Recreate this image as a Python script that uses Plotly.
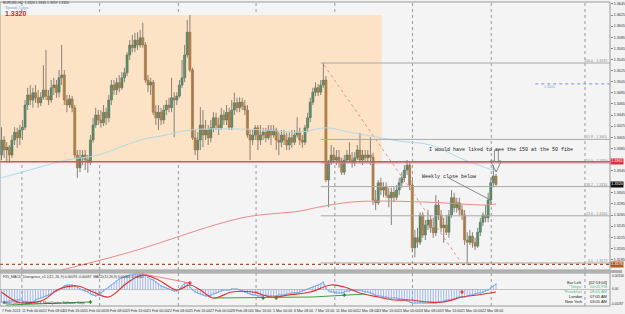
import plotly.graph_objects as go

# ---------------- data: H4 candles, prices stored as pips above 1.3000 ----------------
opens = [373,400,382,387,373,400,414,404,418,423, 463,481,472,485,476,467,477,490,479,472,
         494,499,486,512,517,472,463,474,458,373, 350,368,373,364,360,400,427,445,436,431,
         450,440,472,499,490,503,494,512,521,553, 571,566,580,571,584,571,508,499,504,450,
         440,450,436,454,463,458,476,472,479,499, 512,553,594,526,404,382,400,427,409,418,
         404,422,440,427,422,445,436,450,423,454, 467,458,468,461,454,409,400,409,422,400,
         409,414,404,418,409,418,400,396,409,400, 391,404,396,409,414,400,396,422,440,468,
         486,494,486,499,508,328,359,373,364,369, 360,342,364,373,364,359,368,382,364,373,
         368,373,369,292,287,323,310,315,301,296, 306,297,310,323,332,346,355,319,206,224,
         216,265,229,247,256,242,233,283,265,242, 247,234,265,296,278,287,274,265,220,216,
         227,215,209,234,252,265,260,292,323,335]
highs = [423,407,396,391,409,423,422,427,436,472, 494,499,494,499,490,486,535,562,490,508,
         512,508,526,571,526,481,481,479,463,382, 382,382,382,373,409,440,458,454,454,463,
         458,481,508,508,512,517,522,530,558,580, 589,593,594,598,611,576,517,512,508,463,
         463,458,463,472,476,512,486,486,508,544, 571,616,625,530,418,414,459,454,436,427,
         436,450,449,440,458,454,463,458,472,485, 476,477,476,472,463,418,418,427,427,427,
         422,422,427,427,427,422,414,418,418,413, 414,418,418,441,422,409,427,449,476,494,
         504,501,508,539,515,364,391,387,382,382, 368,373,382,396,378,378,391,413,382,382,
         382,405,377,310,328,332,324,324,314,314, 315,319,332,342,355,364,360,328,238,242,
         270,270,256,274,265,260,301,292,274,260, 265,274,310,305,296,296,283,274,234,238,
         234,224,242,260,270,283,305,332,355,339]
lows = [364,368,359,359,368,391,386,391,400,418, 454,463,458,467,458,461,472,472,463,467,
        481,476,477,499,463,450,458,450,368,332, 342,355,346,341,355,395,422,427,422,425,
        427,432,463,481,481,486,490,504,515,544, 558,558,562,566,566,503,486,481,445,427,
        418,427,429,445,450,450,405,463,476,494, 504,548,522,400,373,364,382,387,400,391,
        396,414,418,409,418,427,427,418,418,445, 450,450,454,445,404,364,391,400,382,391,
        400,396,400,391,404,382,373,387,391,382, 382,386,391,404,391,386,391,414,432,463,
        479,479,481,494,324,279,355,359,355,350, 337,337,359,359,350,353,364,359,355,359,
        360,355,283,274,283,301,297,296,279,247, 288,292,301,314,324,337,310,198,189,206,
        211,224,220,238,233,224,227,256,234,215, 229,224,260,270,269,265,256,211,175,211,
        206,202,206,227,245,252,252,283,315,317]
closes = [400,382,387,373,400,414,404,418,423,463, 481,472,485,476,467,477,490,479,472,494,
          499,486,512,517,472,463,474,458,373,350, 368,373,364,360,400,427,445,436,431,450,
          440,472,499,490,503,494,512,521,553,571, 566,580,571,584,571,508,499,504,450,440,
          450,436,454,463,458,476,472,479,499,512, 553,594,526,404,382,400,427,409,418,404,
          422,440,427,422,445,436,450,423,454,467, 458,468,461,454,409,400,409,422,400,409,
          414,404,418,409,418,400,396,409,400,391, 404,396,409,414,400,396,422,440,468,486,
          494,486,499,508,328,359,373,364,369,360, 342,364,373,364,359,368,382,364,373,368,
          373,369,292,287,323,310,315,301,296,306, 297,310,323,332,346,355,319,206,224,216,
          265,229,247,256,242,233,283,265,242,247, 234,265,296,278,287,274,265,220,216,227,
          215,209,234,252,265,260,292,323,335,320]

# MACD histogram / main line (units of 0.00002)
macd_hist = [-13, -13,-13,-12,-12,-11,-11,-11, -12,-13,-14,-14,-13, -11,-10,-9,-8,-7,-6,
             -5,-3,-2,-1, 1,3,4,4,4, 3,2,0,-1,-2,-3, -5,-6,-7,-6, -4,-2,0,2,4, 6,8,10,11,12,
             13,14,14,15,15,15,15, 14,12,10,9, 7,5,3,2,1, 0,-1,-2,-2, 0,3,6,5, 2,-1,-3,-4,-5,
             -6,-7,-7,-6,-5,-4, -3,-2,-1,-1,-1,0, 0,0,-1,-2,-3,-4, -5,-6,-6,-7,-7,-7,
             -6,-7,-7,-7,-7,-6, -6,-6,-5,-5,-4,-4, -4,-3,-2,-1,0,1, 2,3,4,5,7, 1,-2,-3,-3,-4,
             -4,-4,-3,-2,-2,-1, -1,-1,-1,-2,-3,-3, -4,-5,-6,-7,-7,-8, -8,-9,-9,-9,-9,-10,
             -10,-11,-12,-13,-14,-14, -14,-14,-14,-14,-14,-14, -14,-14,-13,-13,-12,-11,
             -11,-11,-10,-9,-8,-8, -8,-7,-6,-6,-5,-4, -4,-3,-2,-1,1, 3,5]
signal_bar = [0, 6, 10, 16, 22, 29, 35, 41, 48, 54, 60, 67, 72, 76, 81, 88, 96, 103, 110, 118,
              126, 131, 137, 144, 150, 156, 163, 169, 176, 182, 189]
signal_val = [-3, -13, -14, -11, 0, 3, -3, -8, 6, 14, 9, -1, 4, -1, -9, -3, -3, -8, -6, -3,
              4, 2, -4, -8, -11, -11, -13, -13, -8, -6, -3]

ma150_bar = [0, 7, 25, 37, 53, 63, 72, 88, 101, 114, 124, 133, 145, 152, 164, 177, 189]
ma150_val = [332, 341, 364, 373, 400, 409, 418, 420, 418, 414, 422, 414, 404, 398, 391, 364, 344]
ma200_bar = [23, 49, 92, 114, 121, 133, 143, 164, 185, 189]
ma200_val = [166, 198, 260, 272, 279, 288, 290, 288, 283, 285]

fib_high, fib_low = 538.6, 178.6
fib_levels = [0.0, 23.6, 38.2, 50.0, 61.8, 100.0]
red_level = 361.0
blue_level = 501.0
brown_level = 176.0
bid = 320.0

time_labels = ["11 Feb 00:00", "12 Feb 08:00", "13 Feb 16:00", "15 Feb 00:00", "18 Feb 08:00",
               "19 Feb 16:00", "21 Feb 00:00", "22 Feb 08:00", "25 Feb 16:00", "27 Feb 00:00",
               "28 Feb 08:00", "1 Mar 16:00", "5 Mar 00:00", "6 Mar 08:00", "7 Mar 16:00",
               "11 Mar 00:00", "12 Mar 08:00", "13 Mar 16:00", "15 Mar 00:00", "18 Mar 08:00",
               "19 Mar 16:00", "21 Mar 00:00", "22 Mar 08:00"]
price_ticks = [1.3645 - 0.002 * k for k in range(24)]

# ---------------- layout helpers ----------------
W, H = 625, 314
ML, MR, MT, MB = 0, 13, 2, 8
PW, PH = W - ML - MR, H - MT - MB
def pxx(x): return x / PW
def pxy(y): return (H - MB - y) / PH
def P(v): return 1.3 + v / 10000.0

N = len(closes)
X = list(range(N))
DX = 2.625
X0 = 1.5
xr = [(0 - X0) / DX, (PW - X0) / DX]

badges = [red_level, bid, brown_level]
shown_ticks = [t for t in price_ticks if all(abs((t - 1.3) * 10000 - b) > 7 for b in badges)]

FONT = "Liberation Sans"
fig = go.Figure()

wx, wy = [], []
for i in X:
    wx += [i, i, None]
    wy += [P(lows[i]), P(highs[i]), None]
fig.add_trace(go.Scatter(x=wx, y=wy, mode="lines", line=dict(color="#8a8078", width=1),
                         hoverinfo="skip", showlegend=False))
for up in (True, False):
    idx = [i for i in X if (closes[i] >= opens[i]) == up]
    fig.add_trace(go.Bar(
        x=idx,
        base=[P(min(opens[i], closes[i])) for i in idx],
        y=[max(abs(closes[i] - opens[i]), 0.6) / 10000.0 for i in idx],
        width=0.8,
        marker=dict(color="#2f8f5a" if up else "#e8891c",
                    line=dict(color="#2f6d4a" if up else "#8a5420", width=0.5)),
        showlegend=False, hoverinfo="skip"))

fig.add_trace(go.Scatter(x=ma150_bar, y=[P(v) for v in ma150_val], mode="lines",
                         line=dict(color="#acdbe8", width=1, shape="spline"), showlegend=False))
fig.add_trace(go.Scatter(x=ma200_bar, y=[P(v) for v in ma200_val], mode="lines",
                         line=dict(color="#e88a8a", width=1, shape="spline"), showlegend=False))

hx, hy = [], []
for i in X:
    hx += [i, i, None]
    hy += [0, macd_hist[i], None]
fig.add_trace(go.Scatter(x=hx, y=hy, mode="lines", yaxis="y2",
                         line=dict(color="#8fa8ee", width=0.8), showlegend=False))
fig.add_trace(go.Scatter(x=X, y=macd_hist, mode="lines+markers", yaxis="y2",
                         line=dict(color="#7aaaf0", width=1), marker=dict(size=1.5, color="#7aaaf0"),
                         showlegend=False))
fig.add_trace(go.Scatter(x=signal_bar, y=signal_val, mode="lines", yaxis="y2",
                         line=dict(color="#e03030", width=1.2, shape="spline"), showlegend=False))
fig.add_trace(go.Scatter(x=[2, 34, None, 81, 119, 139], y=[-16, -13, None, -9, -8, -5], mode="lines",
                         yaxis="y2", line=dict(color="#40a040", width=1), showlegend=False))
fig.add_trace(go.Scatter(x=[54, 72], y=[15, 6], mode="lines", yaxis="y2",
                         line=dict(color="#f08080", width=1), showlegend=False))
fig.add_trace(go.Scatter(x=[72, 176], y=[6, -3], mode="markers", yaxis="y2",
                         marker=dict(color="#d02020", size=3, symbol="cross"), showlegend=False))
fig.add_trace(go.Scatter(x=[34, 100, 105, 131], y=[-13, -9, -9, -6], mode="markers", yaxis="y2",
                         marker=dict(color="#208020", size=3, symbol="cross"), showlegend=False))

shapes = []
shapes.append(dict(type="rect", xref="x", yref="y", x0=xr[0], x1=145.3, y0=P(362), y1=P(625),
                   fillcolor="#fde3c5", line=dict(width=0), layer="below"))
for gx in [7.8, 37.5, 67.6, 97.3, 127.4, 157.1, 187.2, 223.0]:
    shapes.append(dict(type="line", xref="x", yref="paper", x0=gx, x1=gx, y0=0, y1=1,
                       line=dict(color="#9a9a9a", width=1, dash="dot"), layer="below"))
for lv in fib_levels:
    pv = fib_low + (fib_high - fib_low) * lv / 100.0
    shapes.append(dict(type="line", xref="x", yref="y", x0=122, x1=xr[1], y0=P(pv), y1=P(pv),
                       line=dict(color="#a8a8a8", width=1)))
shapes.append(dict(type="line", xref="x", yref="y", x0=123.3, x1=175.8, y0=P(535), y1=P(179),
                   line=dict(color="#f09080", width=1, dash="dot")))
shapes.append(dict(type="line", xref="x", yref="y", x0=xr[0], x1=xr[1], y0=P(red_level), y1=P(red_level),
                   line=dict(color="#d85060", width=1.5)))
shapes.append(dict(type="line", xref="x", yref="y", x0=204, x1=xr[1], y0=P(blue_level), y1=P(blue_level),
                   line=dict(color="#7090e0", width=1, dash="dot")))
shapes.append(dict(type="line", xref="x", yref="y", x0=xr[0], x1=xr[1], y0=P(brown_level), y1=P(brown_level),
                   line=dict(color="#a0522d", width=1.2, dash="dot")))
shapes.append(dict(type="line", xref="x", yref="y", x0=170.9, x1=186.9, y0=P(331.6), y1=P(292),
                   line=dict(color="#707070", width=0.8)))
shapes.append(dict(type="path", xref="x", yref="y",
                   path=f"M 188.4 {P(382)} L 188.4 {P(362.2)} L 186.9 {P(362.2)} L 189.1 {P(342.4)} "
                        f"L 191.0 {P(362.2)} L 189.9 {P(362.2)} L 189.9 {P(382)} Z",
                   line=dict(color="#707070", width=0.8), fillcolor="rgba(0,0,0,0)"))
shapes.append(dict(type="rect", xref="paper", yref="paper", x0=0, x1=1, y0=pxy(270), y1=pxy(2),
                   line=dict(color="#9a9a9a", width=1)))
shapes.append(dict(type="rect", xref="paper", yref="paper", x0=0, x1=1, y0=pxy(306), y1=pxy(273),
                   line=dict(color="#9a9a9a", width=1)))
shapes.append(dict(type="rect", xref="paper", yref="paper", x0=0, x1=1.02, y0=pxy(273), y1=pxy(270),
                   fillcolor="#b0b0b0", line=dict(width=0)))

ann = []
def txt(x, y, s, size=4.5, color="#303030", anchor="left", family=FONT, **kw):
    ann.append(dict(x=pxx(x), y=pxy(y), xref="paper", yref="paper", text=s, showarrow=False,
                    xanchor=anchor, yanchor="middle", borderpad=0,
                    font=dict(size=size, color=color, family=family), **kw))

txt(2, 3, "EURUSD,H4  1.3320 1.3345 1.3319 1.3320", 3.4)
txt(4, 7.6, "Spread: 1 pips", 3.6, "#7a9ad8")
txt(4, 13.6, "<b>1.3320</b>", 7, "#e02020")
txt(429, 149.5, "I would have liked to see the 150 at the 50 fibe", 5, "#202020", family="Liberation Mono")
txt(422, 176.5, "Weekly close below", 5, "#202020", family="Liberation Mono")
for lv in fib_levels:
    pv = fib_low + (fib_high - fib_low) * lv / 100.0
    ann.append(dict(x=xr[1], y=P(pv), xref="x", yref="y", text=f"{lv:.1f} - {P(pv):.4f}",
                    showarrow=False, xanchor="right", yanchor="bottom", xshift=-2, yshift=-1, borderpad=0,
                    font=dict(size=3.6, color="#8a8a8a", family=FONT)))
ann.append(dict(x=207, y=P(blue_level), xref="x", yref="y", text=f"{P(blue_level):.4f}", showarrow=False,
                xanchor="left", yanchor="top", borderpad=0, font=dict(size=3.6, color="#8a9ad0", family=FONT)))
for lvl, bg in [(red_level, "#e03040"), (bid, "#101010"), (brown_level, "#b05a20")]:
    ann.append(dict(x=1.0, y=P(lvl), xref="paper", yref="y", text=f"{P(lvl):.4f}", showarrow=False,
                    xanchor="left", yanchor="middle", bgcolor=bg, borderpad=0.3,
                    font=dict(size=3.8, color="white", family=FONT)))
txt(2, 276.5, "FX5_MACD_Divergence_v1.1(12, 26, 9) 0.00076 -0.00067  MACD(12,26,9) 0.00000 -0.00067", 3.4)
txt(2, 303, "Alpari (UK), © 2001-2013, MetaQuotes Software Corp.", 3.4)
txt(613.5, 275.5, "0.00316", 3.3)
txt(613.5, 289, "0.00", 3.3)
txt(611.5, 303.5, "-0.00287", 3.1)
rows = [("Bar Left", "[02:53:04]", "#202020"), ("*Tokyo", "04:05 PM", "#50c080"),
        ("*Frankfurt", "08:05 AM", "#50c080"), ("London", "07:05 AM", "#202020"),
        ("New York", "03:05 AM", "#202020")]
for k, (a, b, c) in enumerate(rows):
    y = 282 + 4.8 * k
    txt(585, y, a, 4.0, c, anchor="right")
    txt(610, y, b, 4.0, c, anchor="right")
txt(1, 310.5, "7 Feb 2013", 3.6)
for k, s in enumerate(time_labels):
    ann.append(dict(x=7 + 8 * k, y=pxy(310.5), xref="x", yref="paper", text=s, showarrow=False,
                    xanchor="left", yanchor="middle", xshift=0.8, borderpad=0,
                    font=dict(size=3.6, color="#303030", family=FONT)))

fig.update_layout(
    width=W, height=H, margin=dict(l=ML, r=MR, t=MT, b=MB),
    paper_bgcolor="#f2f2f2", plot_bgcolor="#f4f4f4",
    barmode="overlay", showlegend=False, shapes=shapes, annotations=ann,
    xaxis=dict(range=xr, showgrid=False, zeroline=False, showticklabels=False, anchor="y2", fixedrange=True),
    yaxis=dict(domain=[pxy(270), pxy(2)], range=[P(652 - 1.8 * 270), P(652 - 1.8 * 2)], side="right",
               showgrid=False, zeroline=False, tickvals=shown_ticks,
               ticktext=[f"{v:.4f}" for v in shown_ticks], ticks="outside", ticklen=2,
               tickcolor="#808080", tickfont=dict(size=3.7, color="#303030", family=FONT)),
    yaxis2=dict(domain=[0, pxy(273)], range=[-17, 16], side="right", showgrid=False,
                zeroline=True, zerolinecolor="#c0c0c0", zerolinewidth=0.5, showticklabels=False),
    font=dict(family=FONT),
)
fig.write_html("out.html")
